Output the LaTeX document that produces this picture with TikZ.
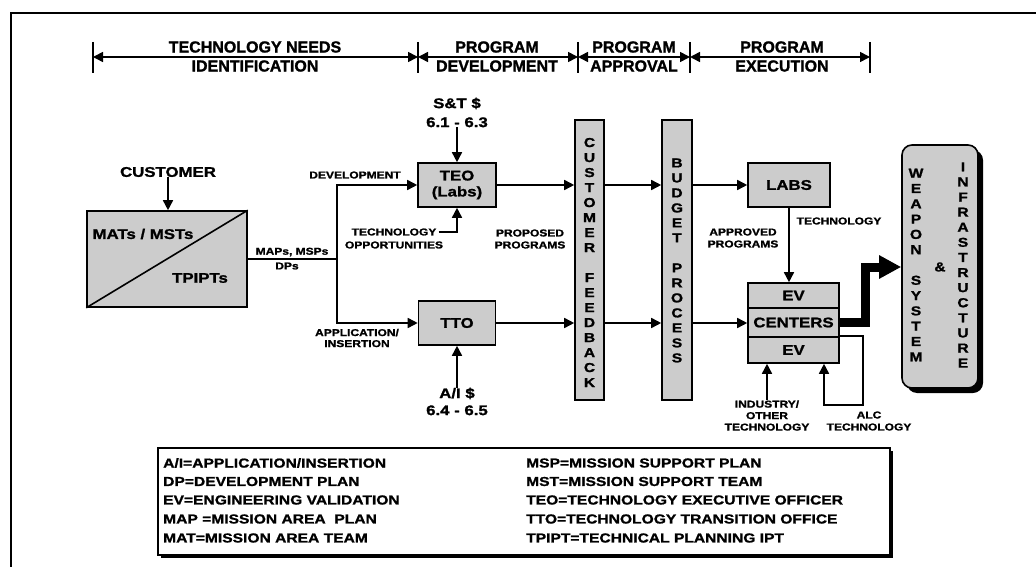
\documentclass[tikz,border=0pt]{standalone}
\usepackage{fontspec}
\setmainfont{Liberation Sans}
\newfontfamily\wide[FakeStretch=1.2,BoldFeatures={FakeBold=1.3}]{Liberation Sans}
\newfontfamily\hdrf[BoldFeatures={FakeBold=1.3}]{Liberation Sans}
\usetikzlibrary{arrows.meta,shadows}
\definecolor{boxgray}{gray}{0.8}
\begin{document}
\begin{tikzpicture}[x=1pt,y=-1pt,
 ln/.style={line width=1.6pt},
 ar/.style={line width=1.6pt,-{Triangle[length=10pt,width=10pt]}},
 harr/.style={line width=1.6pt,{Triangle[length=10pt,width=10pt]}-{Triangle[length=10pt,width=10pt]}},
 boxnode/.style={draw,line width=1.6pt,fill=boxgray,inner sep=0pt,font=\wide\bfseries\fontsize{14}{16}\selectfont,align=center},
 big/.style={font=\wide\bfseries\fontsize{14}{19}\selectfont,align=center,inner sep=0pt},
 lbl/.style={font=\wide\bfseries\fontsize{10}{12}\selectfont,align=center,inner sep=0pt},
 hdr/.style={font=\hdrf\bfseries\fontsize{16}{19}\selectfont,align=center,inner sep=0pt},
 leg/.style={font=\wide\bfseries\fontsize{13}{15}\selectfont,anchor=west,inner sep=0pt},
 stack/.style={font=\wide\bfseries\fontsize{13}{15}\selectfont,align=center,inner sep=0pt},
]
\useasboundingbox (0,0) rectangle (1036,567);
\fill[white] (0,0) rectangle (1036,567);
% frame
\draw[line width=1.8pt] (11,567) -- (11,13) -- (1036,13);

% header
\foreach \x [count=\i] in {93,418,578,690,870}{
  \coordinate (b\i) at (\x,57);
  \draw[line width=1.5pt] (\x,42) -- (\x,73);
}
\draw[harr] (b1) -- (b2);
\draw[harr] (b2) -- (b3);
\draw[harr] (b3) -- (b4);
\draw[harr] (b4) -- (b5);
\node[hdr] (h1) at (255,56.5) {TECHNOLOGY NEEDS\\IDENTIFICATION};
\node[hdr] (h2) at (497,56.5) {PROGRAM\\DEVELOPMENT};
\node[hdr] (h3) at (634,56.5) {PROGRAM\\APPROVAL};
\node[hdr] (h4) at (782,56.5) {PROGRAM\\EXECUTION};

% customer / MATs box
\node[boxnode,minimum width=160pt,minimum height=96pt] (mat) at (167,259) {};
\draw[ln] (mat.south west) -- (mat.north east);
\node[big] (matt) at (143,234) {MATs / MSTs};
\node[big] (tpi) at (200,278) {TPIPTs};
\node[big] (cust) at (168,172) {CUSTOMER};
\draw[ar] (cust.south) -- (cust.south |- mat.north);

\coordinate (split) at (337,259);
\draw[ln] (mat.east) -- (split);
\node[lbl] (maps) at (292,252) {MAPs, MSPs};
\node[lbl] (dps) at (287,266) {DPs};

% TEO / TTO
\node[boxnode,minimum width=78pt,minimum height=44pt] (teo) at (457,185) {TEO\\(Labs)};
\node[boxnode,minimum width=77pt,minimum height=44pt] (tto) at (457,323) {TTO};
\draw[ar] (split) |- (teo.west);
\draw[ar] (split) |- (tto.west);
\node[lbl] (dev) at (355,175) {DEVELOPMENT};
\node[lbl,font=\wide\bfseries\fontsize{10}{11}\selectfont] (appl) at (357,338) {APPLICATION/\\INSERTION};

\node[big] (st) at (457,112.5) {S\&T \$\\6.1 - 6.3};
\draw[ar] (st.south) -- (teo.north);
\node[big,font=\wide\bfseries\fontsize{14}{17}\selectfont] (ai) at (457,401.5) {A/I \$\\6.4 - 6.5};
\draw[ar] (ai.north) -- (tto.south);

\node[lbl] (to1) at (394,232) {TECHNOLOGY};
\node[lbl] (to2) at (394,245) {OPPORTUNITIES};
\draw[ar] ([xshift=2pt]to1.east) -| (teo.south);

% bars
\node[draw,line width=1.6pt,fill=boxgray,minimum width=29pt,minimum height=280pt,inner sep=0pt] (cf) at (589.5,260) {};
\node[draw,line width=1.6pt,fill=boxgray,minimum width=30pt,minimum height=280pt,inner sep=0pt] (bp) at (677,260) {};
\node[stack] (cft) at (589.5,262.5) {C\\U\\S\\T\\O\\M\\E\\R\\[15pt]F\\E\\E\\D\\B\\A\\C\\K};
\node[stack] (bpt) at (677,260.5) {B\\U\\D\\G\\E\\T\\[15pt]P\\R\\O\\C\\E\\S\\S};

\node[lbl] (prop) at (530,239) {PROPOSED\\PROGRAMS};

% labs / centers
\node[boxnode,minimum width=82pt,minimum height=44pt] (labs) at (789,185) {LABS};
\node[boxnode,minimum width=91pt,minimum height=25pt] (ev1) at (793.5,295.5) {EV};
\node[boxnode,minimum width=91pt,minimum height=29pt] (cen) at (793.5,322.5) {CENTERS};
\node[boxnode,minimum width=91pt,minimum height=26pt] (ev2) at (793.5,350) {EV};

\draw[ar] (teo.east) -- (teo.east -| cf.west);
\draw[ar] (teo.east -| cf.east) -- (teo.east -| bp.west);
\draw[ar] (teo.east -| bp.east) -- (labs.west);
\draw[ar] (tto.east) -- (tto.east -| cf.west);
\draw[ar] (tto.east -| cf.east) -- (tto.east -| bp.west);
\draw[ar] (tto.east -| bp.east) -- (tto.east -| cen.west);

\draw[ar] (labs.south) -- (labs.south |- ev1.north);
\node[lbl] (appr) at (743,238) {APPROVED\\PROGRAMS};
\node[lbl] (techl) at (839,221) {TECHNOLOGY};

% weapon system box
\node[draw,line width=1.6pt,fill=boxgray,rounded corners=10pt,minimum width=76pt,minimum height=243pt,inner sep=0pt,
  drop shadow={shadow xshift=5pt,shadow yshift=-5pt,fill=black,opacity=1}] (ws) at (940,266.5) {};
\node[stack,font=\wide\bfseries\fontsize{13}{15.3}\selectfont] (wst) at (916,265) {W\\E\\A\\P\\O\\N\\[15.3pt]S\\Y\\S\\T\\E\\M};
\node[stack,font=\wide\bfseries\fontsize{13}{15.1}\selectfont] (inf) at (963,265) {I\\N\\F\\R\\A\\S\\T\\R\\U\\C\\T\\U\\R\\E};
\node[stack] (amp) at (940,267) {\&};

% thick arrow
\coordinate (tk) at (865,267);
\draw[line width=9pt,line join=miter,-{Triangle[length=22pt,width=22pt]}] (cen.east) -| (tk) -- (tk -| ws.west);

% ALC loop
\coordinate (lp1) at (863,405);
\coordinate (lp2) at (824,405);
\draw[ar] (ev2.north east) -| (lp1) -- (lp2) -- (lp2 |- ev2.south);
\node[lbl,font=\wide\bfseries\fontsize{10}{12}\selectfont] (alc) at (869,421) {ALC\\TECHNOLOGY};

\node[lbl,font=\wide\bfseries\fontsize{10}{11.5}\selectfont] (ind) at (767,415.5) {INDUSTRY/\\OTHER\\TECHNOLOGY};
\draw[ar] (ind.north) -- (ind.north |- ev2.south);

% legend
\node[draw,line width=1.6pt,fill=white,minimum width=732pt,minimum height=107pt,inner sep=0pt,
  drop shadow={shadow xshift=3pt,shadow yshift=-3pt,fill=black,opacity=1}] (legbox) at (524,501.5) {};
\node[leg] (l1) at (163,463) {A/I=APPLICATION/INSERTION};
\node[leg] (l2) at (163,481.5) {DP=DEVELOPMENT PLAN};
\node[leg] (l3) at (163,500) {EV=ENGINEERING VALIDATION};
\node[leg] (l4) at (163,519) {MAP =MISSION AREA\ \ PLAN};
\node[leg] (l5) at (163,538) {MAT=MISSION AREA TEAM};
\node[leg] (r1) at (526,463) {MSP=MISSION SUPPORT PLAN};
\node[leg] (r2) at (526,481.5) {MST=MISSION SUPPORT TEAM};
\node[leg] (r3) at (526,500) {TEO=TECHNOLOGY EXECUTIVE OFFICER};
\node[leg] (r4) at (526,519) {TTO=TECHNOLOGY TRANSITION OFFICE};
\node[leg] (r5) at (526,538) {TPIPT=TECHNICAL PLANNING IPT};
\end{tikzpicture}
\end{document}
